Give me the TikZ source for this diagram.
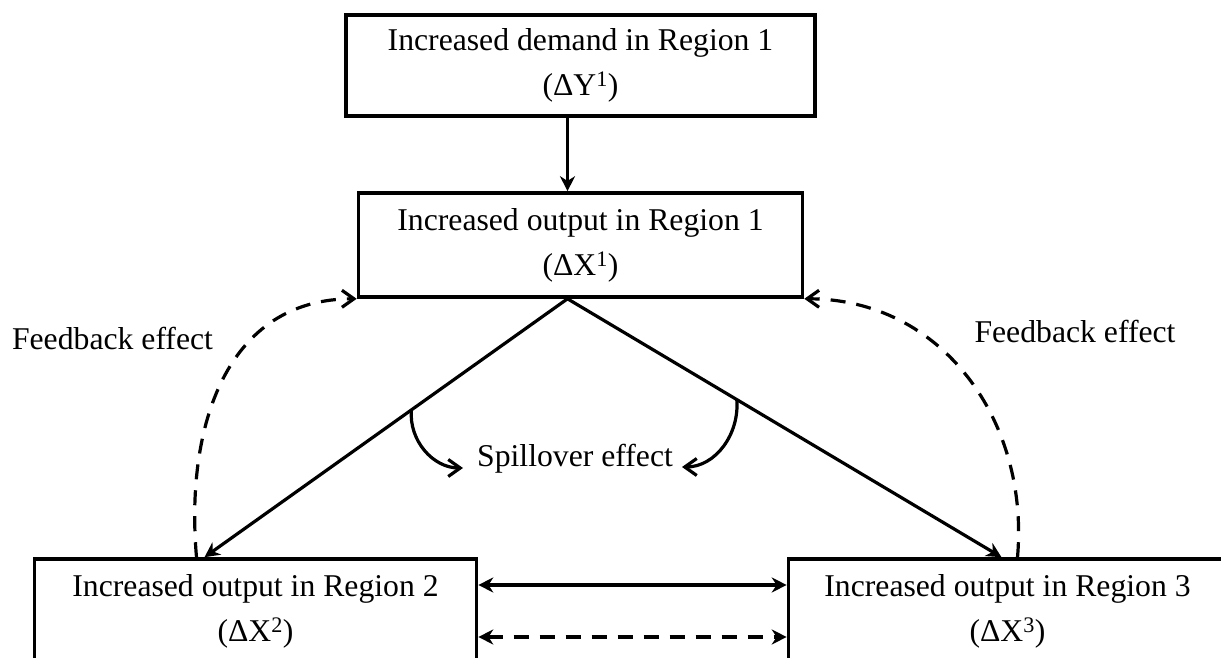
\documentclass[tikz,border=0pt]{standalone}
\usepackage{fontspec}
\setmainfont{Liberation Serif}
\usetikzlibrary{arrows.meta, positioning, calc}

\begin{document}
\begin{tikzpicture}[
        x=1pt, y=1pt, on grid, line width=3.2pt,
        >={Stealth[length=15pt, width=15pt]},
        every node/.style={font=\fontsize{31.7}{45}\selectfont},
        box/.style={draw, line width=3.6pt, align=center, minimum height=104pt, inner sep=0pt},
        barb/.style={-{Straight Barb[length=12pt, width=17pt]}},
        dashline/.style={dash pattern=on 15pt off 11pt},
        ]

        \useasboundingbox (0,0) rectangle (1221,658);

        \node[box, minimum width=469pt, minimum height=101pt] (y_1) at (580.5,592.5) {Increased demand in Region 1\\(ΔY\textsuperscript{1})};
        \node[box, minimum width=444pt] (x_1) [below=179.5pt of y_1] {Increased output in Region 1\\(ΔX\textsuperscript{1})};
        \node[box, minimum width=442pt] (x_2) [below left=366pt and 325pt of x_1] {Increased output in Region 2\\(ΔX\textsuperscript{2})};
        \node[box, minimum width=438pt] (x_3) [below right=366pt and 427pt of x_1] {Increased output in Region 3\\(ΔX\textsuperscript{3})};

        \node[anchor=base] (fb_2) at (112.5,308) {Feedback effect};
        \node[anchor=base] (fb_3) at (1075,315) {Feedback effect};
        \node[anchor=base] (sp) at (575,191) {Spillover effect};

        \coordinate (apex) at ([xshift=-13pt]x_1.south);
        \coordinate (in_2) at ([xshift=-51pt]x_2.north);
        \coordinate (in_3) at ([xshift=-6pt]x_3.north);
        \coordinate (out_2) at ([xshift=-59pt]x_2.north);
        \coordinate (out_3) at ([xshift=10pt]x_3.north);
        \coordinate (sp_2) at (463,190);
        \coordinate (sp_3) at (682,191);

        \path[->] ([xshift=-13pt]y_1.south) edge ([xshift=-13pt]x_1.north)
        (apex) edge (in_2)
        (apex) edge (in_3);
        \path[barb, dashline] (out_2) edge[out=95, in=180, looseness=1.1] (x_1.south west)
        (out_3) edge[out=85, in=0, looseness=1.05] (x_1.south east);
        \path[barb] ($(apex)!0.43!(in_2)$) edge[out=265, in=180] (sp_2)
        ($(apex)!0.39!(in_3)$) edge[out=-85, in=0] (sp_3);
        \path[<->] ([yshift=26pt]x_2.east) edge ([yshift=26pt]x_3.west)
        ([yshift=-26pt]x_2.east) edge[dashline] ([yshift=-26pt]x_3.west);
      \end{tikzpicture}
\end{document}
